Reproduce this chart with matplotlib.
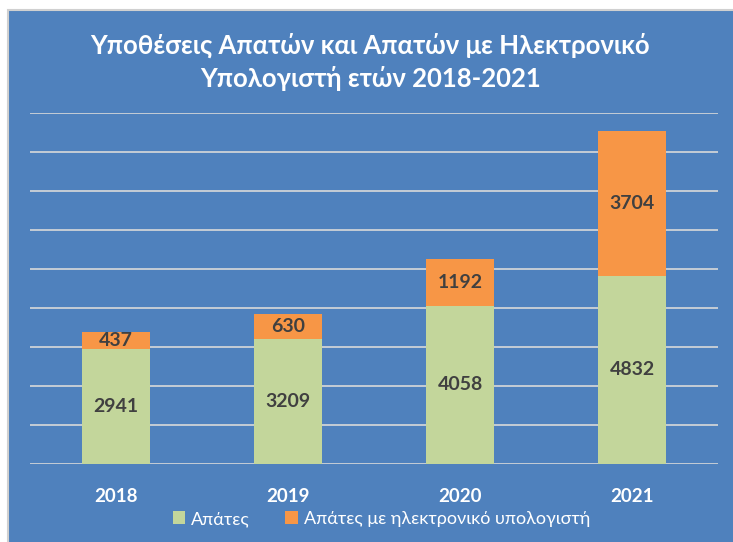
import matplotlib
matplotlib.use("Agg")
import matplotlib.pyplot as plt
from matplotlib.patches import Rectangle, Patch

years = ["2018", "2019", "2020", "2021"]
apates = [2941, 3209, 4058, 4832]
apates_pc = [437, 630, 1192, 3704]
title = "Υποθέσεις Απατών και Απατών με Ηλεκτρονικό\nΥπολογιστή ετών 2018-2021"
series_names = ["Απάτες", "Απάτες με ηλεκτρονικό υπολογιστή"]

BLUE = "#4F81BD"
GREEN = "#C3D69B"
ORANGE = "#F79646"
LABEL = "#404040"
FONT = ["Lato", "DejaVu Sans"]

fig = plt.figure(figsize=(7.33, 5.42), dpi=100)
fig.patch.set_facecolor("white")
bg = Rectangle((8/733, -0.01), 1, 1.01 - 10/542, transform=fig.transFigure,
               facecolor=BLUE, edgecolor="#D0D0D0", linewidth=1.5, zorder=-5)
fig.patches.append(bg)

ax = fig.add_axes([30/733, 1 - 464/542, 688/733, (464 - 113)/542])
ax.set_zorder(1)
ax.set_facecolor("none")
x = list(range(len(years)))
ax.set_ylim(0, 9000)
ax.set_xlim(-0.5, len(years) - 0.5)
ax.set_yticks(range(0, 9001, 1000))
ax.yaxis.grid(True, color="#D9D9D9", linewidth=1.2)
ax.set_axisbelow(True)
for s in ax.spines.values():
    s.set_visible(False)
ax.tick_params(axis="y", left=False, labelleft=False)
ax.tick_params(axis="x", bottom=False, pad=14)

b1 = ax.bar(x, apates, width=0.395, color=GREEN, label=series_names[0], zorder=2)
b2 = ax.bar(x, apates_pc, width=0.395, bottom=apates, color=ORANGE, label=series_names[1], zorder=2)
for bars in (b1, b2):
    ax.bar_label(bars, label_type="center", color=LABEL, fontsize=14,
                 fontweight="bold", family=FONT)

ax.set_xticks(x)
ax.set_xticklabels(years, color="white", fontsize=13.5, fontweight="bold", family=FONT)

fig.text(0.505, 1 - 62/542, title, ha="center", va="center", color="white",
         fontsize=18.5, fontweight="bold", family=FONT, linespacing=1.4, zorder=2)

handles = [Patch(facecolor=GREEN), Patch(facecolor=ORANGE)]
leg = fig.legend(handles, series_names, loc="center", bbox_to_anchor=(0.52, 1 - 519/542),
                 ncol=2, frameon=False, handlelength=0.7, handleheight=0.7,
                 handletextpad=0.3, columnspacing=2.0, prop={"family": FONT, "size": 13})
leg.set_zorder(2)
for t in leg.get_texts():
    t.set_color("white")

fig.savefig("out.png", dpi=100, facecolor=fig.get_facecolor())
